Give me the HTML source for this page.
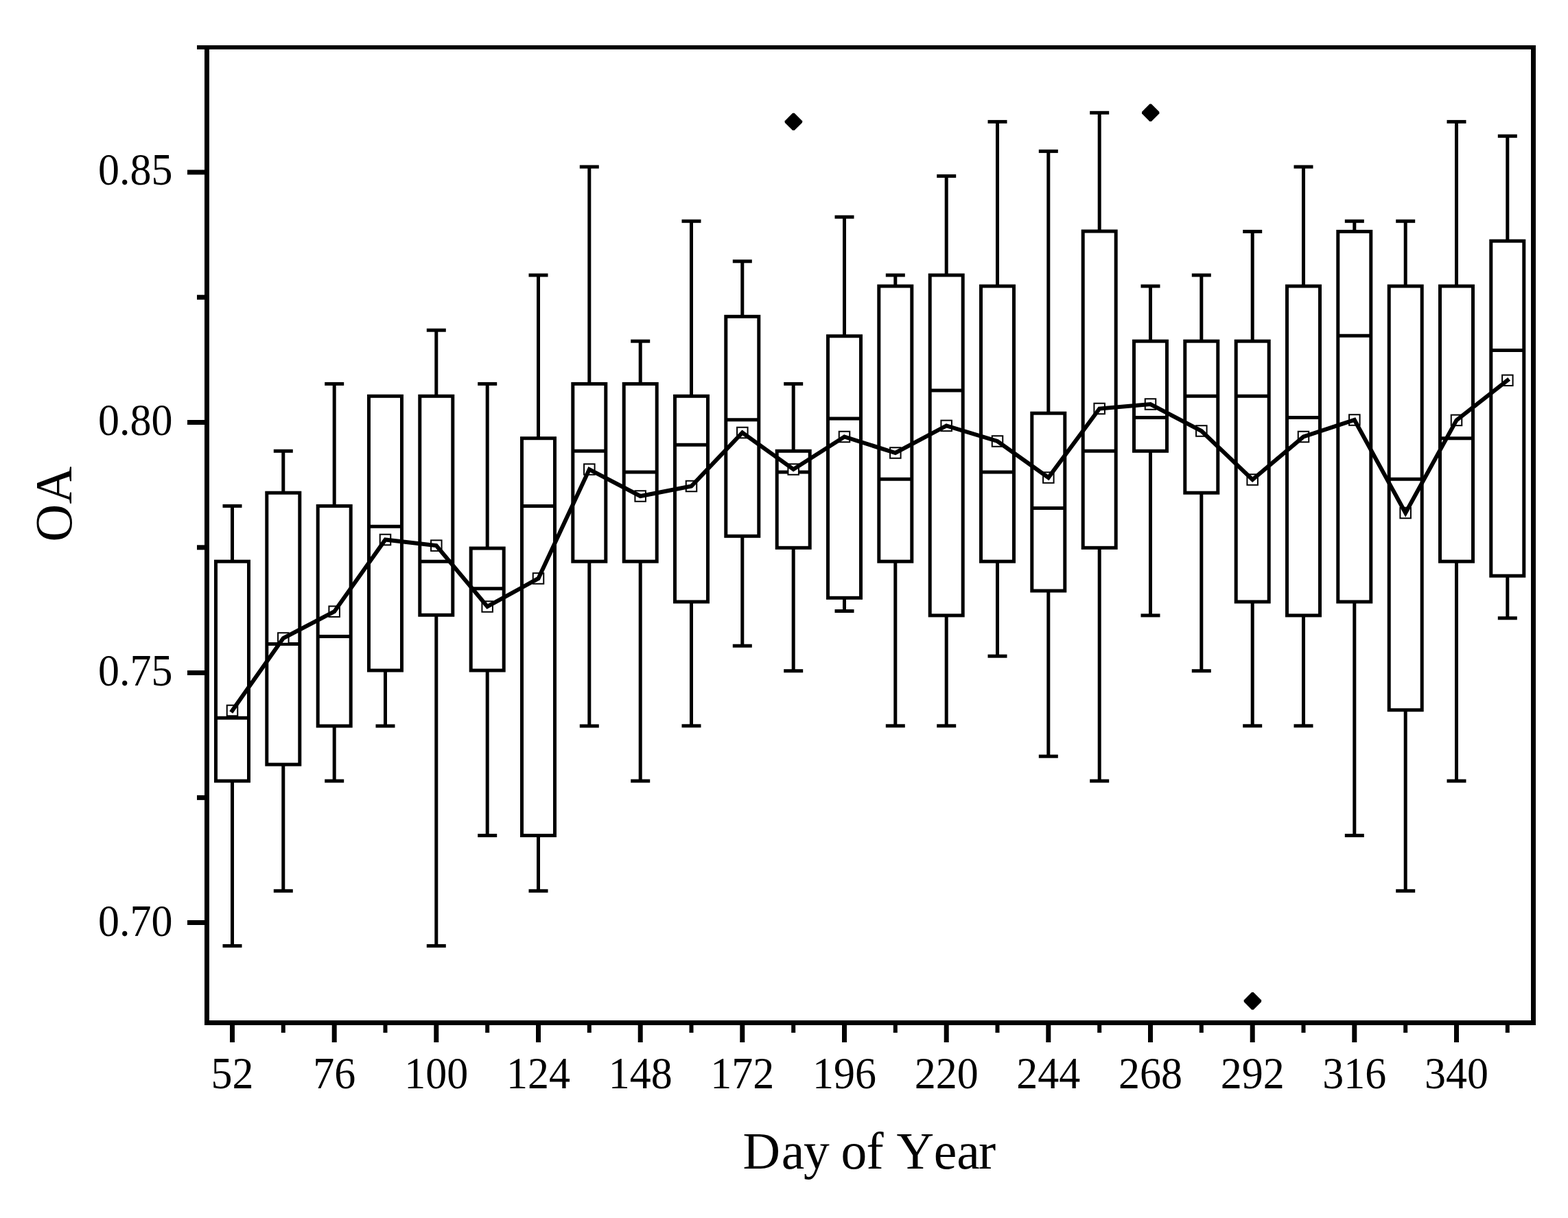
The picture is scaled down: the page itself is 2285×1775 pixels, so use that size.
<!DOCTYPE html>
<html><head><meta charset="utf-8"><title>OA by Day of Year</title>
<style>
html,body{margin:0;padding:0;background:#fff;}
body{width:2285px;height:1775px;overflow:hidden;}
svg{display:block;}
text{font-family:"Liberation Serif","Times New Roman",serif;fill:#000;}
</style></head>
<body>
<svg width="2285" height="1775" viewBox="0 0 2285 1775">
<rect width="2285" height="1775" fill="#fff"/>
<g fill="none" stroke="#000" stroke-width="5" stroke-linecap="butt" stroke-linejoin="miter">
<line x1="338.5" y1="737.4" x2="338.5" y2="818.2"/>
<line x1="324.5" y1="737.4" x2="352.5" y2="737.4"/>
<line x1="338.5" y1="1138.1" x2="338.5" y2="1378.4"/>
<line x1="324.5" y1="1378.4" x2="352.5" y2="1378.4"/>
<rect x="314.5" y="818.2" width="48.0" height="319.9"/>
<line x1="314.5" y1="1046.3" x2="362.5" y2="1046.3"/>
<line x1="412.8" y1="657.3" x2="412.8" y2="718.2"/>
<line x1="398.8" y1="657.3" x2="426.8" y2="657.3"/>
<line x1="412.8" y1="1114.1" x2="412.8" y2="1298.3"/>
<line x1="398.8" y1="1298.3" x2="426.8" y2="1298.3"/>
<rect x="388.8" y="718.2" width="48.0" height="395.9"/>
<line x1="388.8" y1="938.6" x2="436.8" y2="938.6"/>
<line x1="487.2" y1="559.4" x2="487.2" y2="737.4"/>
<line x1="473.2" y1="559.4" x2="501.2" y2="559.4"/>
<line x1="487.2" y1="1058.0" x2="487.2" y2="1138.1"/>
<line x1="473.2" y1="1138.1" x2="501.2" y2="1138.1"/>
<rect x="463.2" y="737.4" width="48.0" height="320.6"/>
<line x1="463.2" y1="927.4" x2="511.2" y2="927.4"/>
<line x1="561.5" y1="977.0" x2="561.5" y2="1058.0"/>
<line x1="547.5" y1="1058.0" x2="575.5" y2="1058.0"/>
<rect x="537.5" y="577.3" width="48.0" height="399.7"/>
<line x1="537.5" y1="767.2" x2="585.5" y2="767.2"/>
<line x1="635.8" y1="481.2" x2="635.8" y2="577.3"/>
<line x1="621.8" y1="481.2" x2="649.8" y2="481.2"/>
<line x1="635.8" y1="896.3" x2="635.8" y2="1378.4"/>
<line x1="621.8" y1="1378.4" x2="649.8" y2="1378.4"/>
<rect x="611.8" y="577.3" width="48.0" height="319.0"/>
<line x1="611.8" y1="818.2" x2="659.8" y2="818.2"/>
<line x1="710.2" y1="559.4" x2="710.2" y2="799.0"/>
<line x1="696.2" y1="559.4" x2="724.2" y2="559.4"/>
<line x1="710.2" y1="977.0" x2="710.2" y2="1217.6"/>
<line x1="696.2" y1="1217.6" x2="724.2" y2="1217.6"/>
<rect x="686.2" y="799.0" width="48.0" height="178.0"/>
<line x1="686.2" y1="857.8" x2="734.2" y2="857.8"/>
<line x1="784.5" y1="401.0" x2="784.5" y2="638.7"/>
<line x1="770.5" y1="401.0" x2="798.5" y2="401.0"/>
<line x1="784.5" y1="1217.6" x2="784.5" y2="1298.3"/>
<line x1="770.5" y1="1298.3" x2="798.5" y2="1298.3"/>
<rect x="760.5" y="638.7" width="48.0" height="578.9"/>
<line x1="760.5" y1="737.4" x2="808.5" y2="737.4"/>
<line x1="858.8" y1="243.1" x2="858.8" y2="559.4"/>
<line x1="844.8" y1="243.1" x2="872.8" y2="243.1"/>
<line x1="858.8" y1="818.2" x2="858.8" y2="1058.0"/>
<line x1="844.8" y1="1058.0" x2="872.8" y2="1058.0"/>
<rect x="834.8" y="559.4" width="48.0" height="258.8"/>
<line x1="834.8" y1="657.3" x2="882.8" y2="657.3"/>
<line x1="933.2" y1="497.2" x2="933.2" y2="559.4"/>
<line x1="919.2" y1="497.2" x2="947.2" y2="497.2"/>
<line x1="933.2" y1="818.2" x2="933.2" y2="1138.1"/>
<line x1="919.2" y1="1138.1" x2="947.2" y2="1138.1"/>
<rect x="909.2" y="559.4" width="48.0" height="258.8"/>
<line x1="909.2" y1="688.1" x2="957.2" y2="688.1"/>
<line x1="1007.5" y1="322.3" x2="1007.5" y2="577.3"/>
<line x1="993.5" y1="322.3" x2="1021.5" y2="322.3"/>
<line x1="1007.5" y1="877.0" x2="1007.5" y2="1057.8"/>
<line x1="993.5" y1="1057.8" x2="1021.5" y2="1057.8"/>
<rect x="983.5" y="577.3" width="48.0" height="299.7"/>
<line x1="983.5" y1="648.3" x2="1031.5" y2="648.3"/>
<line x1="1081.8" y1="380.8" x2="1081.8" y2="461.3"/>
<line x1="1067.8" y1="380.8" x2="1095.8" y2="380.8"/>
<line x1="1081.8" y1="781.3" x2="1081.8" y2="941.2"/>
<line x1="1067.8" y1="941.2" x2="1095.8" y2="941.2"/>
<rect x="1057.8" y="461.3" width="48.0" height="320.0"/>
<line x1="1057.8" y1="611.8" x2="1105.8" y2="611.8"/>
<line x1="1156.2" y1="559.4" x2="1156.2" y2="657.3"/>
<line x1="1142.2" y1="559.4" x2="1170.2" y2="559.4"/>
<line x1="1156.2" y1="798.3" x2="1156.2" y2="977.7"/>
<line x1="1142.2" y1="977.7" x2="1170.2" y2="977.7"/>
<rect x="1132.2" y="657.3" width="48.0" height="141.0"/>
<line x1="1132.2" y1="688.1" x2="1180.2" y2="688.1"/>
<line x1="1230.5" y1="316.2" x2="1230.5" y2="489.8"/>
<line x1="1216.5" y1="316.2" x2="1244.5" y2="316.2"/>
<line x1="1230.5" y1="871.3" x2="1230.5" y2="890.5"/>
<line x1="1216.5" y1="890.5" x2="1244.5" y2="890.5"/>
<rect x="1206.5" y="489.8" width="48.0" height="381.5"/>
<line x1="1206.5" y1="609.9" x2="1254.5" y2="609.9"/>
<line x1="1304.8" y1="401.0" x2="1304.8" y2="417.0"/>
<line x1="1290.8" y1="401.0" x2="1318.8" y2="401.0"/>
<line x1="1304.8" y1="818.2" x2="1304.8" y2="1057.8"/>
<line x1="1290.8" y1="1057.8" x2="1318.8" y2="1057.8"/>
<rect x="1280.8" y="417.0" width="48.0" height="401.2"/>
<line x1="1280.8" y1="698.3" x2="1328.8" y2="698.3"/>
<line x1="1379.2" y1="256.6" x2="1379.2" y2="401.0"/>
<line x1="1365.2" y1="256.6" x2="1393.2" y2="256.6"/>
<line x1="1379.2" y1="896.9" x2="1379.2" y2="1057.8"/>
<line x1="1365.2" y1="1057.8" x2="1393.2" y2="1057.8"/>
<rect x="1355.2" y="401.0" width="48.0" height="495.9"/>
<line x1="1355.2" y1="569.0" x2="1403.2" y2="569.0"/>
<line x1="1453.5" y1="177.4" x2="1453.5" y2="417.0"/>
<line x1="1439.5" y1="177.4" x2="1467.5" y2="177.4"/>
<line x1="1453.5" y1="818.2" x2="1453.5" y2="956.2"/>
<line x1="1439.5" y1="956.2" x2="1467.5" y2="956.2"/>
<rect x="1429.5" y="417.0" width="48.0" height="401.2"/>
<line x1="1429.5" y1="688.1" x2="1477.5" y2="688.1"/>
<line x1="1527.8" y1="220.4" x2="1527.8" y2="602.2"/>
<line x1="1513.8" y1="220.4" x2="1541.8" y2="220.4"/>
<line x1="1527.8" y1="861.0" x2="1527.8" y2="1102.2"/>
<line x1="1513.8" y1="1102.2" x2="1541.8" y2="1102.2"/>
<rect x="1503.8" y="602.2" width="48.0" height="258.8"/>
<line x1="1503.8" y1="740.6" x2="1551.8" y2="740.6"/>
<line x1="1602.2" y1="164.3" x2="1602.2" y2="337.0"/>
<line x1="1588.2" y1="164.3" x2="1616.2" y2="164.3"/>
<line x1="1602.2" y1="798.3" x2="1602.2" y2="1138.1"/>
<line x1="1588.2" y1="1138.1" x2="1616.2" y2="1138.1"/>
<rect x="1578.2" y="337.0" width="48.0" height="461.3"/>
<line x1="1578.2" y1="657.3" x2="1626.2" y2="657.3"/>
<line x1="1676.5" y1="417.0" x2="1676.5" y2="497.2"/>
<line x1="1662.5" y1="417.0" x2="1690.5" y2="417.0"/>
<line x1="1676.5" y1="657.3" x2="1676.5" y2="896.9"/>
<line x1="1662.5" y1="896.9" x2="1690.5" y2="896.9"/>
<rect x="1652.5" y="497.2" width="48.0" height="160.1"/>
<line x1="1652.5" y1="608.6" x2="1700.5" y2="608.6"/>
<line x1="1750.8" y1="401.0" x2="1750.8" y2="497.2"/>
<line x1="1736.8" y1="401.0" x2="1764.8" y2="401.0"/>
<line x1="1750.8" y1="718.2" x2="1750.8" y2="977.7"/>
<line x1="1736.8" y1="977.7" x2="1764.8" y2="977.7"/>
<rect x="1726.8" y="497.2" width="48.0" height="221.0"/>
<line x1="1726.8" y1="577.3" x2="1774.8" y2="577.3"/>
<line x1="1825.2" y1="337.4" x2="1825.2" y2="497.2"/>
<line x1="1811.2" y1="337.4" x2="1839.2" y2="337.4"/>
<line x1="1825.2" y1="877.0" x2="1825.2" y2="1057.8"/>
<line x1="1811.2" y1="1057.8" x2="1839.2" y2="1057.8"/>
<rect x="1801.2" y="497.2" width="48.0" height="379.8"/>
<line x1="1801.2" y1="577.3" x2="1849.2" y2="577.3"/>
<line x1="1899.5" y1="243.1" x2="1899.5" y2="417.0"/>
<line x1="1885.5" y1="243.1" x2="1913.5" y2="243.1"/>
<line x1="1899.5" y1="896.9" x2="1899.5" y2="1057.8"/>
<line x1="1885.5" y1="1057.8" x2="1913.5" y2="1057.8"/>
<rect x="1875.5" y="417.0" width="48.0" height="479.9"/>
<line x1="1875.5" y1="608.6" x2="1923.5" y2="608.6"/>
<line x1="1973.8" y1="322.3" x2="1973.8" y2="337.4"/>
<line x1="1959.8" y1="322.3" x2="1987.8" y2="322.3"/>
<line x1="1973.8" y1="877.0" x2="1973.8" y2="1217.6"/>
<line x1="1959.8" y1="1217.6" x2="1987.8" y2="1217.6"/>
<rect x="1949.8" y="337.4" width="48.0" height="539.6"/>
<line x1="1949.8" y1="489.2" x2="1997.8" y2="489.2"/>
<line x1="2048.2" y1="322.3" x2="2048.2" y2="417.0"/>
<line x1="2034.2" y1="322.3" x2="2062.2" y2="322.3"/>
<line x1="2048.2" y1="1034.7" x2="2048.2" y2="1298.3"/>
<line x1="2034.2" y1="1298.3" x2="2062.2" y2="1298.3"/>
<rect x="2024.2" y="417.0" width="48.0" height="617.7"/>
<line x1="2024.2" y1="698.3" x2="2072.2" y2="698.3"/>
<line x1="2122.5" y1="177.4" x2="2122.5" y2="417.0"/>
<line x1="2108.5" y1="177.4" x2="2136.5" y2="177.4"/>
<line x1="2122.5" y1="818.2" x2="2122.5" y2="1138.1"/>
<line x1="2108.5" y1="1138.1" x2="2136.5" y2="1138.1"/>
<rect x="2098.5" y="417.0" width="48.0" height="401.2"/>
<line x1="2098.5" y1="638.7" x2="2146.5" y2="638.7"/>
<line x1="2196.8" y1="198.3" x2="2196.8" y2="351.2"/>
<line x1="2182.8" y1="198.3" x2="2210.8" y2="198.3"/>
<line x1="2196.8" y1="839.2" x2="2196.8" y2="900.8"/>
<line x1="2182.8" y1="900.8" x2="2210.8" y2="900.8"/>
<rect x="2172.8" y="351.2" width="48.0" height="488.0"/>
<line x1="2172.8" y1="510.6" x2="2220.8" y2="510.6"/>
</g>
<g fill="#fff" stroke="#000" stroke-width="2">
<rect x="330.75" y="1027.75" width="15.5" height="15.5"/>
<rect x="405.08" y="922.25" width="15.5" height="15.5"/>
<rect x="479.42" y="883.45" width="15.5" height="15.5"/>
<rect x="553.75" y="778.75" width="15.5" height="15.5"/>
<rect x="628.08" y="787.35" width="15.5" height="15.5"/>
<rect x="702.42" y="876.25" width="15.5" height="15.5"/>
<rect x="776.75" y="835.25" width="15.5" height="15.5"/>
<rect x="851.08" y="676.25" width="15.5" height="15.5"/>
<rect x="925.42" y="715.25" width="15.5" height="15.5"/>
<rect x="999.75" y="700.75" width="15.5" height="15.5"/>
<rect x="1074.08" y="622.75" width="15.5" height="15.5"/>
<rect x="1148.42" y="676.25" width="15.5" height="15.5"/>
<rect x="1222.75" y="628.75" width="15.5" height="15.5"/>
<rect x="1297.08" y="652.25" width="15.5" height="15.5"/>
<rect x="1371.42" y="612.65" width="15.5" height="15.5"/>
<rect x="1445.75" y="635.25" width="15.5" height="15.5"/>
<rect x="1520.08" y="688.25" width="15.5" height="15.5"/>
<rect x="1594.42" y="587.75" width="15.5" height="15.5"/>
<rect x="1668.75" y="581.25" width="15.5" height="15.5"/>
<rect x="1743.08" y="620.25" width="15.5" height="15.5"/>
<rect x="1817.42" y="691.25" width="15.5" height="15.5"/>
<rect x="1891.75" y="628.75" width="15.5" height="15.5"/>
<rect x="1966.08" y="604.25" width="15.5" height="15.5"/>
<rect x="2040.42" y="739.75" width="15.5" height="15.5"/>
<rect x="2114.75" y="604.65" width="15.5" height="15.5"/>
<rect x="2189.08" y="546.55" width="15.5" height="15.5"/>
</g>
<polyline points="338.5,1035.5 412.8,930.0 487.2,891.2 561.5,786.5 635.8,795.1 710.2,884.0 784.5,843.0 858.8,684.0 933.2,723.0 1007.5,708.5 1081.8,630.5 1156.2,684.0 1230.5,636.5 1304.8,660.0 1379.2,620.4 1453.5,643.0 1527.8,696.0 1602.2,595.5 1676.5,589.0 1750.8,628.0 1825.2,699.0 1899.5,636.5 1973.8,612.0 2048.2,747.5 2122.5,612.4 2196.8,554.3" fill="none" stroke="#000" stroke-width="6" stroke-linejoin="miter" stroke-linecap="square"/>
<g fill="#000">
<path d="M1155.1,164.7 L1157.6,164.7 L1169.1,176.2 L1169.1,178.7 L1157.6,190.1 L1155.1,190.1 L1143.7,178.7 L1143.7,176.2 Z"/>
<path d="M1675.4,151.6 L1677.9,151.6 L1689.4,163.1 L1689.4,165.6 L1677.9,177.0 L1675.4,177.0 L1664.0,165.6 L1664.0,163.1 Z"/>
<path d="M1824.1,1446.1 L1826.6,1446.1 L1838.1,1457.5 L1838.1,1460.0 L1826.6,1471.5 L1824.1,1471.5 L1812.7,1460.0 L1812.7,1457.5 Z"/>
</g>
<g stroke="#000" fill="none">
<path d="M287,66H2238V72H287Z M298,66H305V1494H298Z M2231,66H2238V1494H2231Z M298,1487H2238V1494H298Z" fill="#000" stroke="none"/>
<line x1="273" y1="251.0" x2="301.5" y2="251.0" stroke-width="7"/>
<line x1="273" y1="615.5" x2="301.5" y2="615.5" stroke-width="7"/>
<line x1="273" y1="980.5" x2="301.5" y2="980.5" stroke-width="7"/>
<line x1="273" y1="1344.5" x2="301.5" y2="1344.5" stroke-width="7"/>
<line x1="287" y1="433.2" x2="301.5" y2="433.2" stroke-width="7"/>
<line x1="287" y1="797.8" x2="301.5" y2="797.8" stroke-width="7"/>
<line x1="287" y1="1162.4" x2="301.5" y2="1162.4" stroke-width="7"/>
<line x1="338.5" y1="1490.5" x2="338.5" y2="1519" stroke-width="7"/>
<line x1="412.8" y1="1490.5" x2="412.8" y2="1505" stroke-width="6"/>
<line x1="487.2" y1="1490.5" x2="487.2" y2="1519" stroke-width="7"/>
<line x1="561.5" y1="1490.5" x2="561.5" y2="1505" stroke-width="6"/>
<line x1="635.8" y1="1490.5" x2="635.8" y2="1519" stroke-width="7"/>
<line x1="710.2" y1="1490.5" x2="710.2" y2="1505" stroke-width="6"/>
<line x1="784.5" y1="1490.5" x2="784.5" y2="1519" stroke-width="7"/>
<line x1="858.8" y1="1490.5" x2="858.8" y2="1505" stroke-width="6"/>
<line x1="933.2" y1="1490.5" x2="933.2" y2="1519" stroke-width="7"/>
<line x1="1007.5" y1="1490.5" x2="1007.5" y2="1505" stroke-width="6"/>
<line x1="1081.8" y1="1490.5" x2="1081.8" y2="1519" stroke-width="7"/>
<line x1="1156.2" y1="1490.5" x2="1156.2" y2="1505" stroke-width="6"/>
<line x1="1230.5" y1="1490.5" x2="1230.5" y2="1519" stroke-width="7"/>
<line x1="1304.8" y1="1490.5" x2="1304.8" y2="1505" stroke-width="6"/>
<line x1="1379.2" y1="1490.5" x2="1379.2" y2="1519" stroke-width="7"/>
<line x1="1453.5" y1="1490.5" x2="1453.5" y2="1505" stroke-width="6"/>
<line x1="1527.8" y1="1490.5" x2="1527.8" y2="1519" stroke-width="7"/>
<line x1="1602.2" y1="1490.5" x2="1602.2" y2="1505" stroke-width="6"/>
<line x1="1676.5" y1="1490.5" x2="1676.5" y2="1519" stroke-width="7"/>
<line x1="1750.8" y1="1490.5" x2="1750.8" y2="1505" stroke-width="6"/>
<line x1="1825.2" y1="1490.5" x2="1825.2" y2="1519" stroke-width="7"/>
<line x1="1899.5" y1="1490.5" x2="1899.5" y2="1505" stroke-width="6"/>
<line x1="1973.8" y1="1490.5" x2="1973.8" y2="1519" stroke-width="7"/>
<line x1="2048.2" y1="1490.5" x2="2048.2" y2="1505" stroke-width="6"/>
<line x1="2122.5" y1="1490.5" x2="2122.5" y2="1519" stroke-width="7"/>
<line x1="2196.8" y1="1490.5" x2="2196.8" y2="1505" stroke-width="6"/>
</g>
<g font-size="65.6">
<text transform="translate(251.5,1364.0) scale(0.945,1)" text-anchor="end">0.70</text>
<text transform="translate(251.5,999.0) scale(0.945,1)" text-anchor="end">0.75</text>
<text transform="translate(251.5,634.0) scale(0.945,1)" text-anchor="end">0.80</text>
<text transform="translate(251.5,269.0) scale(0.945,1)" text-anchor="end">0.85</text>
<text transform="translate(338.5,1586) scale(0.945,1)" text-anchor="middle">52</text>
<text transform="translate(487.2,1586) scale(0.945,1)" text-anchor="middle">76</text>
<text transform="translate(635.8,1586) scale(0.945,1)" text-anchor="middle">100</text>
<text transform="translate(784.5,1586) scale(0.945,1)" text-anchor="middle">124</text>
<text transform="translate(933.2,1586) scale(0.945,1)" text-anchor="middle">148</text>
<text transform="translate(1081.8,1586) scale(0.945,1)" text-anchor="middle">172</text>
<text transform="translate(1230.5,1586) scale(0.945,1)" text-anchor="middle">196</text>
<text transform="translate(1379.2,1586) scale(0.945,1)" text-anchor="middle">220</text>
<text transform="translate(1527.8,1586) scale(0.945,1)" text-anchor="middle">244</text>
<text transform="translate(1676.5,1586) scale(0.945,1)" text-anchor="middle">268</text>
<text transform="translate(1825.2,1586) scale(0.945,1)" text-anchor="middle">292</text>
<text transform="translate(1973.8,1586) scale(0.945,1)" text-anchor="middle">316</text>
<text transform="translate(2122.5,1586) scale(0.945,1)" text-anchor="middle">340</text>
</g>
<text x="1082.6 1138.85 1171.09 1209.57 1225.48 1262.45 1293.52 1306.44 1360.82 1394.16 1425.91" y="1703" font-size="75.5">Day of Year</text>
<text transform="translate(104,734.5) rotate(-90)" x="0" y="0" font-size="76" text-anchor="middle">OA</text>
</svg>
</body></html>
